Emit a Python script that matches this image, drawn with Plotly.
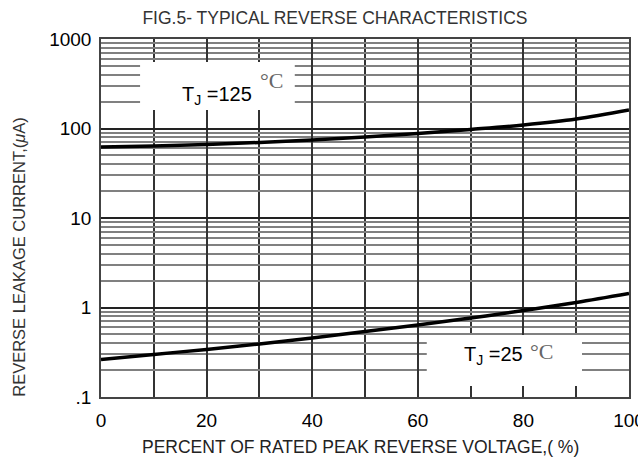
import plotly.graph_objects as go

# Data
voltage_pct = [0, 10, 20, 30, 40, 50, 60, 70, 80, 90, 100]
current_125C = [62.1, 63.7, 66.2, 69.8, 74.5, 80.4, 87.9, 97.5, 109.4, 127.6, 161]
current_25C = [0.262, 0.299, 0.340, 0.391, 0.456, 0.539, 0.637, 0.763, 0.925, 1.137, 1.433]

x_ticks = [0, 20, 40, 60, 80, 100]
y_tickvals = [0.1, 1, 10, 100, 1000]
y_ticktext = [".1", "1", "10", "100", "1000"]
y_minor = [m * d for d in [0.1, 1, 10, 100] for m in range(2, 10)]

fig = go.Figure()
for ys in (current_125C, current_25C):
    fig.add_trace(go.Scatter(x=voltage_pct, y=ys, mode="lines",
                             line=dict(color="black", width=3.5, shape="spline", smoothing=1),
                             showlegend=False, hoverinfo="skip"))

fig.update_layout(
    width=638, height=464,
    margin=dict(l=101, r=9, t=39, b=67, autoexpand=False),
    paper_bgcolor="white", plot_bgcolor="white",
    font=dict(family="Liberation Sans, Arial, sans-serif", color="black"),
    title=dict(text="FIG.5- TYPICAL REVERSE CHARACTERISTICS", x=0.525, xanchor="center",
               y=1 - 18 / 464, yanchor="middle",
               font=dict(size=17.5, color="#333")),
)

fig.update_xaxes(
    range=[0, 100], tickvals=x_ticks, ticks="", tickmode="array",
    showgrid=True, gridcolor="#333", gridwidth=1.5,
    showline=True, linecolor="#444", linewidth=1.5, mirror=True,
    tickfont=dict(size=19), ticklabelstandoff=5, ticklabeloverflow="allow",
    zeroline=False, automargin=False,
    minor=dict(tickvals=[10, 30, 50, 70, 90], showgrid=True, gridcolor="#333", gridwidth=1.5),
)
fig.update_yaxes(
    type="log", range=[-1, 3], tickvals=y_tickvals, ticktext=y_ticktext, ticks="",
    showgrid=True, gridcolor="#222", gridwidth=1.5,
    showline=True, linecolor="#444", linewidth=1.5, mirror=True,
    tickfont=dict(size=19), ticklabelstandoff=4, ticklabeloverflow="allow",
    minor=dict(tickvals=y_minor, showgrid=True, gridcolor="#808080", gridwidth=1.5),
    zeroline=False, automargin=False,
)

# white label boxes covering the grid
for x0, x1, y0, y1 in [(0.074, 0.367, 0.802, 0.936), (0.617, 0.911, 0.031, 0.173)]:
    fig.add_shape(type="rect", xref="paper", yref="paper", x0=x0, x1=x1, y0=y0, y1=y1,
                  fillcolor="white", line=dict(width=0), layer="above")

serif = "Liberation Serif, Times New Roman, serif"
fig.add_annotation(xref="paper", yref="paper", x=0.150, y=0.841, text="T<sub>J</sub> =125",
                   xanchor="left", yanchor="middle", showarrow=False, font=dict(size=20, color="black"))
fig.add_annotation(xref="paper", yref="paper", x=0.298, y=0.885, text="°C",
                   xanchor="left", yanchor="middle", showarrow=False, font=dict(size=22, color="#666", family=serif))
fig.add_annotation(xref="paper", yref="paper", x=0.684, y=0.117, text="T<sub>J</sub> =25",
                   xanchor="left", yanchor="middle", showarrow=False, font=dict(size=20, color="black"))
fig.add_annotation(xref="paper", yref="paper", x=0.809, y=0.126, text="°C",
                   xanchor="left", yanchor="middle", showarrow=False, font=dict(size=22, color="#666", family=serif))
fig.add_annotation(xref="paper", yref="paper", x=-0.176, y=0.392, text="REVERSE LEAKAGE CURRENT,(<i>μ</i>A)",
                   textangle=-90, showarrow=False, font=dict(size=16.5, color="#333"))
fig.add_annotation(xref="paper", yref="paper", x=0.492, y=-0.14, text="PERCENT OF RATED PEAK REVERSE VOLTAGE,( %)",
                   xanchor="center", yanchor="middle", showarrow=False, font=dict(size=17.5, color="#222"))

fig.write_html("out.html", config={"displayModeBar": False},
               post_script="document.body.style.margin='0';")
